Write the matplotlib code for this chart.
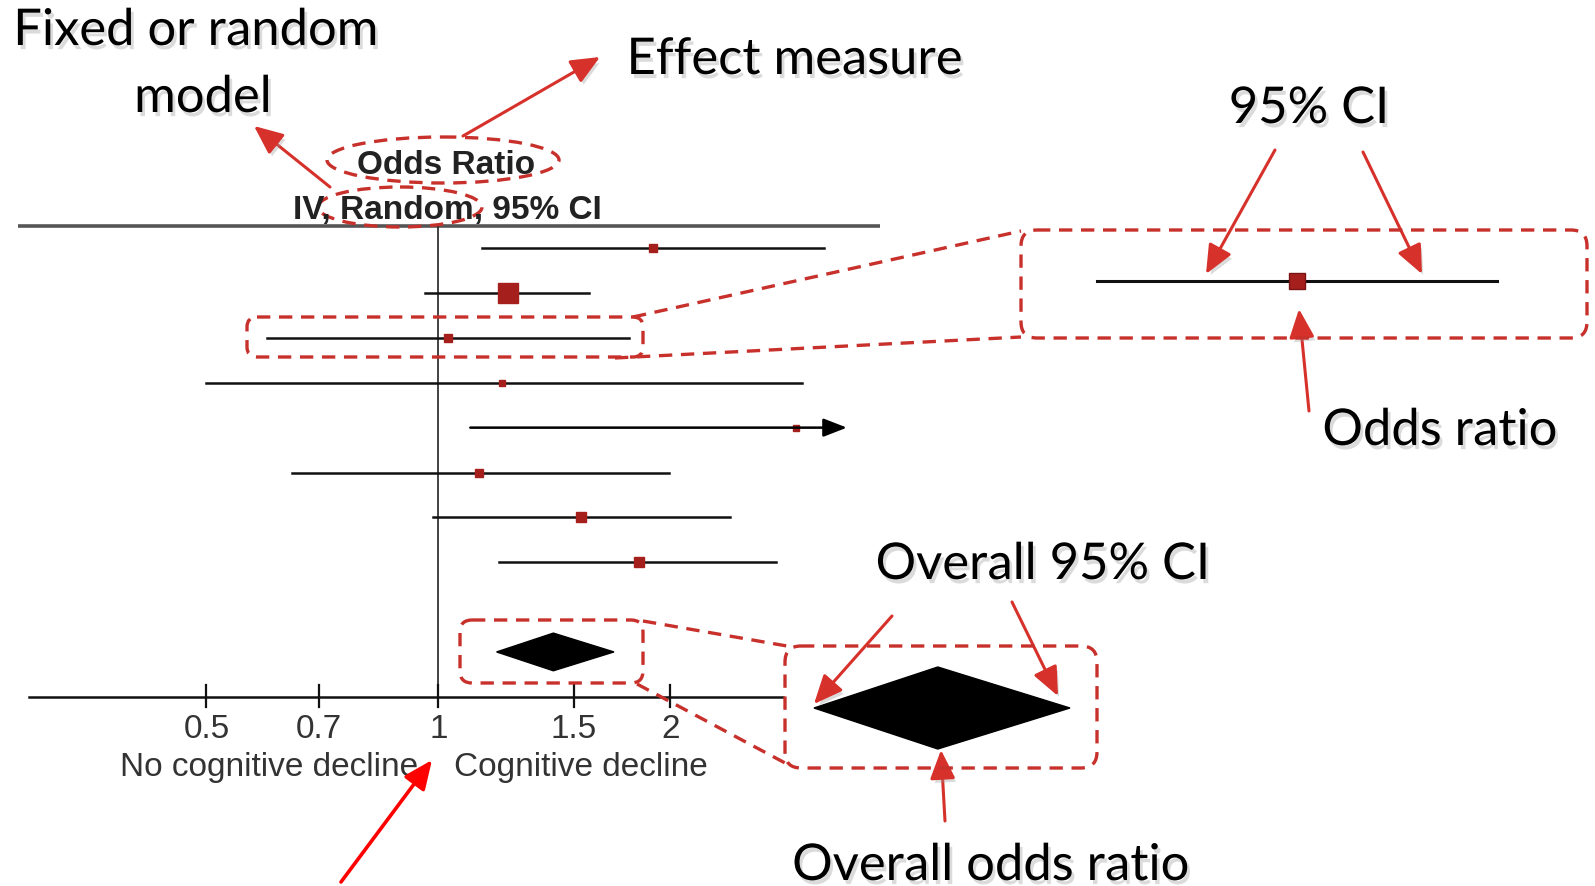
import numpy as np
import matplotlib
matplotlib.use("Agg")
import matplotlib.pyplot as plt
import matplotlib.patheffects as pe
from matplotlib.patches import FancyBboxPatch, Ellipse, FancyArrowPatch

# forest plot data (odds ratios)
studies = ["S1", "S2", "S3", "S4", "S5", "S6", "S7", "S8"]
odds_ratio = [1.90, 1.23, 1.03, 1.21, 2.91, 1.13, 1.53, 1.82]
ci_low = [1.14, 0.96, 0.60, 0.50, 1.10, 0.645, 0.985, 1.20]
ci_high = [3.17, 1.57, 1.77, 2.96, 4.20, 1.99, 2.39, 2.74]
weights = [8.6, 42.6, 8.6, 3.8, 3.8, 6.8, 12.9, 12.9]
pooled_or = 1.41
pooled_low = 1.19
pooled_high = 1.69

tick_vals = [0.5, 0.7, 1, 1.5, 2]
tick_labels = ["0.5", "0.7", "1", "1.5", "2"]
axis_range = [0.294, 2.80]
arrow_clip = 3.39

W, H = 1595, 887
fig = plt.figure(figsize=(W / 100, H / 100), dpi=100)

ann_font = "Lato"
plot_font = "Liberation Sans"
red = "#d6312b"
dash_red = "#c7302b"
sq_red = "#a51f1d"
shadow = [pe.withSimplePatchShadow(offset=(2, -3), shadow_rgbFace="#999999", alpha=0.35)]
k_side = 3.06  # px per sqrt(weight)

# main forest axes: log x, rows on y
ax = fig.add_axes([18 / W, 0, (880 - 18) / W, 1])
ax.set_xscale("log")
ax.set_xlim(np.exp((18 - 438.4) / 334.6), np.exp((880 - 438.4) / 334.6))
ax.set_ylim((H - 249.2) / 44.86, -249.2 / 44.86)
ax.axis("off")

rows = np.arange(len(studies))
n = len(studies)
pool_row = n + 1
axis_row = n + 2

ax.axhline(-0.5, color="#555555", lw=2.6)
ax.plot([1, 1], [-0.5, axis_row], color="#222222", lw=1.2)

for r, o, lo, hi, w in zip(rows, odds_ratio, ci_low, ci_high, weights):
    if hi > arrow_clip:
        ax.annotate("", xy=(arrow_clip, r), xytext=(lo, r),
                    arrowprops=dict(arrowstyle="-|>,head_length=0.9,head_width=0.35",
                                    color="black", lw=1.8, mutation_scale=16,
                                    shrinkA=0, shrinkB=0))
    else:
        ax.plot([lo, hi], [r, r], color="#111111", lw=1.8)
    side = k_side * np.sqrt(w) * 0.72
    ax.plot(o, r, marker="s", ms=side, color=sq_red, mec=sq_red, ls="none")

ax.fill([pooled_low, pooled_or, pooled_high, pooled_or],
        [pool_row, pool_row - 0.42, pool_row, pool_row + 0.42], color="black")

ax.plot(axis_range, [axis_row, axis_row], color="#111111", lw=1.8)
for v, lab in zip(tick_vals, tick_labels):
    ax.plot([v, v], [axis_row - 0.27, axis_row + 0.22], color="#111111", lw=1.6)
    ax.text(v, axis_row + 0.71, lab, ha="center", va="center", fontsize=24,
            family=plot_font, color="#333333")
ax.annotate("No cognitive decline", xy=(1, axis_row + 1.56), xytext=(-20, 0),
            textcoords="offset pixels", ha="right", va="center", fontsize=24,
            family=plot_font, color="#333333")
ax.annotate("Cognitive decline", xy=(1, axis_row + 1.56), xytext=(16, 0),
            textcoords="offset pixels", ha="left", va="center", fontsize=24,
            family=plot_font, color="#333333")

# zoomed study (row 3) inset
zi = 2
in1 = fig.add_axes([1096.5 / W, (H - 282 - 20) / H, (1497 - 1096.5) / W, 40 / H])
in1.set_xscale("log")
in1.set_xlim(ci_low[zi], ci_high[zi])
in1.set_ylim(-1, 1)
in1.axis("off")
in1.plot([ci_low[zi], ci_high[zi]], [0, 0], color="#111111", lw=2.2, clip_on=False)
in1.plot(odds_ratio[zi], 0, marker="s", ms=k_side * np.sqrt(weights[zi]) * 0.72 * 1.8,
         color=sq_red, mec="#7a1514", ls="none", clip_on=False)

# zoomed pooled diamond inset
in2 = fig.add_axes([814 / W, (H - 709 - 41) / H, (1070 - 814) / W, 82 / H])
in2.set_xscale("log")
in2.set_xlim(pooled_low, pooled_high)
in2.set_ylim(-1, 1)
in2.axis("off")
in2.fill([pooled_low, pooled_or, pooled_high, pooled_or], [0, 1, 0, -1],
         color="black", clip_on=False)

# annotation overlay in pixel units
ov = fig.add_axes([0, 0, 1, 1])
ov.set_xlim(0, W)
ov.set_ylim(H, 0)
ov.axis("off")
ov.patch.set_alpha(0)

ov.text(446, 165, "Odds Ratio", ha="center", va="center", fontsize=24,
        family=plot_font, fontweight="bold", color="#222222")
ov.text(447, 211, "IV, Random, 95% CI", ha="center", va="center", fontsize=24,
        family=plot_font, fontweight="bold", color="#222222")

labels = [
    (196, 32, "Fixed or random"),
    (203, 99, "model"),
    (795, 61, "Effect measure"),
    (1309, 110, "95% CI"),
    (1440, 432, "Odds ratio"),
    (1043, 566, "Overall 95% CI"),
    (991, 867, "Overall odds ratio"),
]
for x, y, s in labels:
    ov.text(x, y, s, ha="center", va="center", fontsize=36.5, family=ann_font,
            color="black", path_effects=shadow)

arrows = [
    ((330, 188), (254, 127)),
    ((463, 137), (600, 58)),
    ((1275, 151), (1206, 275)),
    ((1363, 153), (1422, 275)),
    ((1309, 412), (1299, 310)),
    ((892, 617), (814, 705)),
    ((1012, 603), (1058, 697)),
    ((945, 822), (941, 751)),
]
for (x0, y0), (x1, y1) in arrows:
    ov.add_patch(FancyArrowPatch((x0, y0), (x1, y1),
                                 arrowstyle="-|>,head_length=0.8,head_width=0.35",
                                 mutation_scale=22, color=red, lw=2.2,
                                 shrinkA=0, shrinkB=0, path_effects=shadow))
ov.add_patch(FancyArrowPatch((341, 883), (432, 761),
                             arrowstyle="-|>,head_length=0.8,head_width=0.35",
                             mutation_scale=22, color="#ff0000", lw=2.6,
                             shrinkA=0, shrinkB=0))

dash = (0, (4, 2.6))
ov.add_patch(Ellipse((443, 161), 232, 46, fill=False, ec=dash_red, lw=2.4, ls=dash))
ov.add_patch(Ellipse((400, 208), 164, 40, fill=False, ec=dash_red, lw=2.4, ls=dash))

boxes = [
    (247, 318, 643, 358, 10),
    (460, 621, 643, 684, 12),
    (1021, 231, 1587, 339, 16),
    (785, 647, 1097, 769, 16),
]
for x0, y0, x1, y1, rs in boxes:
    ov.add_patch(FancyBboxPatch((x0, y0), x1 - x0, y1 - y0,
                                boxstyle=f"round,pad=0,rounding_size={rs}",
                                fill=False, ec=dash_red, lw=2.4, ls=dash))

connectors = [
    ((633, 318), (1021, 232)),
    ((615, 359), (1021, 338)),
    ((643, 622), (787, 647)),
    ((637, 685), (787, 765)),
]
for (x0, y0), (x1, y1) in connectors:
    ov.plot([x0, x1], [y0, y1], color=dash_red, lw=2.4, ls=dash)

fig.savefig("out.png", dpi=100)
